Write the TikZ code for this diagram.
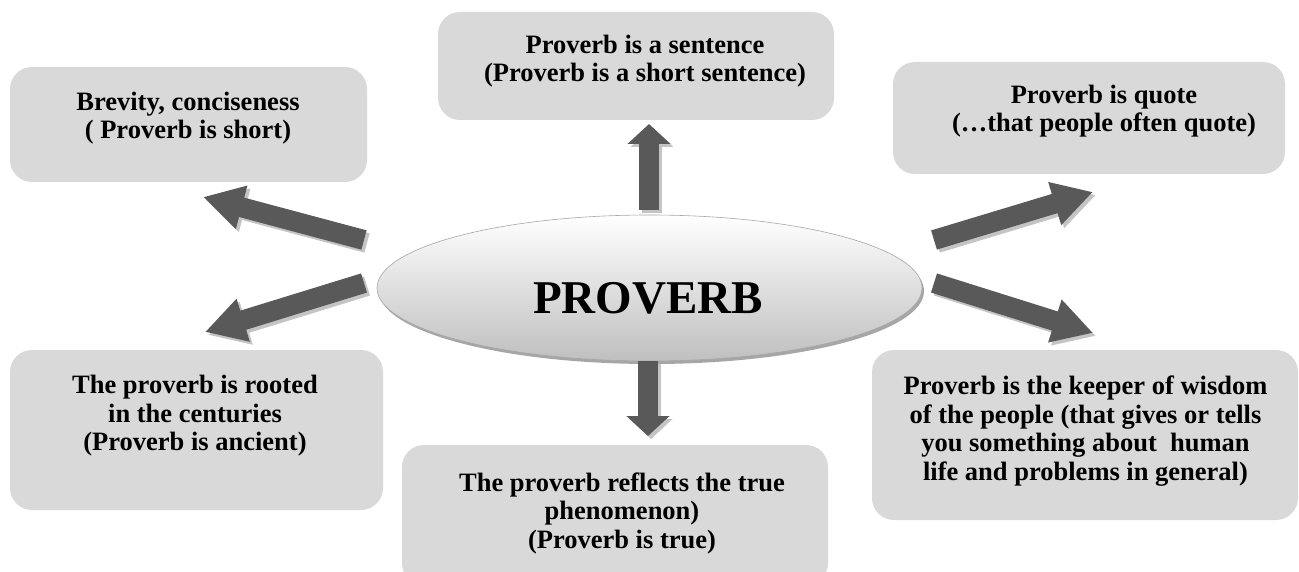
\documentclass[tikz,border=0pt]{standalone}
\usepackage{fontspec}
\setmainfont{Liberation Serif}
\usetikzlibrary{arrows.meta,shapes.geometric,shadows}
\definecolor{boxgray}{HTML}{D9D9D9}
\definecolor{arrowdark}{HTML}{595959}
\definecolor{arrowshade}{HTML}{C4C4C4}
\definecolor{ellborder}{HTML}{A6A6A6}
\tikzset{
  box/.style={draw=none, fill=boxgray, rounded corners=22pt, inner sep=0pt},
  boxtext/.style={align=center, inner sep=0pt, font=\fontsize{26.5}{28.5}\selectfont\bfseries},
  bigarrow/.style={line width=20pt, arrowdark, -{Triangle[width=42pt,length=#1]}},
  bigshadow/.style={line width=20pt, arrowshade, -{Triangle[width=42pt,length=#1]}},
}
\begin{document}
\begin{tikzpicture}[x=1pt,y=-1pt]
\clip (0,0) rectangle (1299,572);
\fill[white] (0,0) rectangle (1299,572);

% boxes
\node[box, minimum width=357pt, minimum height=115pt] (b1) at (188.5,124.5) {};
\node[box, minimum width=396pt, minimum height=108pt] (b2) at (636,66) {};
\node[box, minimum width=392pt, minimum height=112pt] (b3) at (1089,118) {};
\node[box, minimum width=373pt, minimum height=160pt] (b4) at (196.5,430) {};
\node[box, minimum width=426pt, minimum height=140pt] (b5) at (615,515) {};
\node[box, minimum width=426pt, minimum height=170pt] (b6) at (1085,435) {};

% box texts
\node[boxtext] (t1) at (188,118) {Brevity, conciseness\\( Proverb is short)};
\node[boxtext] (t2) at (645,61) {Proverb is a sentence\\(Proverb is a short sentence)};
\node[boxtext] (t3) at (1104,111) {Proverb is quote\\(\ldots that people often quote)};
\node[boxtext] (t4) at (195,416) {The proverb is rooted\\in the centuries\\(Proverb is ancient)};
\node[boxtext] (t5) at (622,513) {The proverb reflects the true\\phenomenon)\\(Proverb is true)};
\node[boxtext] (t6) at (1085.5,431) {Proverb is the keeper of wisdom\\of the people (that gives or tells\\you something about\ \ human\\life and problems in general)};

% central ellipse
\node[ellipse, minimum width=545pt, minimum height=146pt, inner sep=0pt,
      top color=white, bottom color=black!25, draw=ellborder, line width=0.6pt,
      drop shadow={shadow xshift=2pt, shadow yshift=-3pt, fill=black!35, opacity=1}] (c) at (649.5,288) {};
\node[font=\fontsize{47}{50}\selectfont\bfseries, inner sep=0pt] (ct) at (648,298) {PROVERB};

% arrow end points
\coordinate (upT) at (649,210);  \coordinate (upH) at (649,124);
\coordinate (dnT) at (648,361);  \coordinate (dnH) at (648,436);
\coordinate (ulT) at (364,240);  \coordinate (ulH) at (203,197);
\coordinate (llT) at (364,283);  \coordinate (llH) at (205,332);
\coordinate (urT) at (934,240);  \coordinate (urH) at (1093,192);
\coordinate (lrT) at (934,283);  \coordinate (lrH) at (1093,333);

% shadows
\draw[bigshadow=20pt] ([shift={(3,3)}]upT) -- ([shift={(3,3)}]upH);
\draw[bigshadow=20pt] ([shift={(3,3)}]dnT) -- ([shift={(3,3)}]dnH);
\draw[bigshadow=40pt] ([shift={(3,3)}]ulT) -- ([shift={(3,3)}]ulH);
\draw[bigshadow=40pt] ([shift={(3,3)}]llT) -- ([shift={(3,3)}]llH);
\draw[bigshadow=40pt] ([shift={(3,3)}]urT) -- ([shift={(3,3)}]urH);
\draw[bigshadow=40pt] ([shift={(3,3)}]lrT) -- ([shift={(3,3)}]lrH);
% arrows
\draw[bigarrow=20pt] (upT) -- (upH);
\draw[bigarrow=20pt] (dnT) -- (dnH);
\draw[bigarrow=40pt] (ulT) -- (ulH);
\draw[bigarrow=40pt] (llT) -- (llH);
\draw[bigarrow=40pt] (urT) -- (urH);
\draw[bigarrow=40pt] (lrT) -- (lrH);
\end{tikzpicture}
\end{document}
